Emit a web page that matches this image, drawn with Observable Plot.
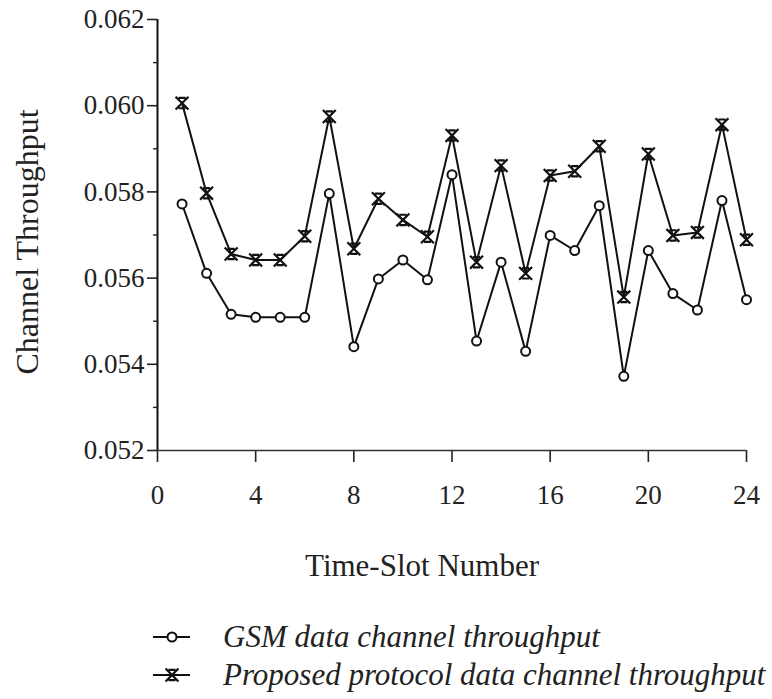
<!DOCTYPE html>
<html>
<head>
<meta charset="utf-8">
<script src="https://cdn.jsdelivr.net/npm/d3@7"></script>
<script src="https://cdn.jsdelivr.net/npm/@observablehq/plot@0.6"></script>
<style>
  body { margin: 0; background: #fff; font-family: "Liberation Serif", "DejaVu Serif", serif; }
  #chart svg { display: block; }
  #legend { position: relative; width: 772px; height: 99px; }
  .row { position: absolute; left: 153px; height: 38px; display: flex; align-items: center;
         font-style: italic; font-size: 31px; color: #222; white-space: nowrap; }
  .row svg { display: block; margin-right: 33px; }
</style>
</head>
<body>
<div id="chart"></div>
<div id="legend"></div>
<script>
// Time-slot numbers
const slots = [1, 2, 3, 4, 5, 6, 7, 8, 9, 10, 11, 12, 13, 14, 15, 16, 17, 18, 19, 20, 21, 22, 23, 24];

// GSM data channel throughput per slot
const gsmThroughput = [0.05772, 0.05611, 0.05516, 0.05509, 0.05509, 0.05509, 0.05796, 0.05441,
                       0.05598, 0.05642, 0.05596, 0.05840, 0.05454, 0.05637, 0.05430, 0.05699,
                       0.05664, 0.05768, 0.05372, 0.05664, 0.05564, 0.05526, 0.05780, 0.05550];

// Proposed protocol data channel throughput per slot
const proposedThroughput = [0.06006, 0.05797, 0.05656, 0.05642, 0.05642, 0.05697, 0.05975, 0.05668,
                            0.05784, 0.05735, 0.05696, 0.05931, 0.05637, 0.05861, 0.05611, 0.05838,
                            0.05848, 0.05906, 0.05556, 0.05888, 0.05699, 0.05706, 0.05956, 0.05689];

// Axis ticks and labels
const xTicks = [0, 4, 8, 12, 16, 20, 24];
const yTicks = [0.052, 0.054, 0.056, 0.058, 0.060, 0.062];
const yMinorTicks = [0.053, 0.055, 0.057, 0.059, 0.061];
const xTitle = "Time-Slot Number";
const yTitle = "Channel Throughput";
const seriesNames = ["GSM data channel throughput", "Proposed protocol data channel throughput"];

const gsm = slots.map((s, i) => ({slot: s, value: gsmThroughput[i]}));
const proposed = slots.map((s, i) => ({slot: s, value: proposedThroughput[i]}));

// Cross marker with short bars on top and bottom
const barCross = {
  draw(context, size) {
    const h = Math.sqrt(size / Math.PI) * 1.5;
    const b = h * 0.55;
    context.moveTo(-h, -h); context.lineTo(h, h);
    context.moveTo(h, -h); context.lineTo(-h, h);
    context.moveTo(-b, -h * 0.8); context.lineTo(b, -h * 0.8);
    context.moveTo(-b, h * 0.8); context.lineTo(b, h * 0.8);
  }
};

const chart = Plot.plot({
  width: 772,
  height: 600,
  marginTop: 19,
  marginBottom: 150,
  marginLeft: 157,
  marginRight: 26,
  style: {fontFamily: "'Liberation Serif', serif", fontSize: "27px", color: "#222", background: "white"},
  x: {domain: [0, 24]},
  y: {domain: [0.052, 0.062]},
  marks: [
    Plot.axisY(yTicks, {tickSize: 10, tickPadding: 3, tickFormat: d3.format(".3f"), label: null, strokeWidth: 1.6, fontSize: 27}),
    Plot.axisY(yMinorTicks, {tickSize: 4, tickFormat: () => "", label: null, strokeWidth: 1.4}),
    Plot.axisX(xTicks, {tickSize: 12, tickPadding: 22, tickFormat: d3.format("d"), label: null, strokeWidth: 1.6, fontSize: 27}),
    Plot.ruleX([0], {y1: 0.052, y2: 0.062, stroke: "#111", strokeWidth: 2}),
    Plot.ruleY([0.052], {x1: 0, x2: 24, stroke: "#333", strokeWidth: 1.5}),
    Plot.line(gsm, {x: "slot", y: "value", stroke: "#111", strokeWidth: 2}),
    Plot.line(proposed, {x: "slot", y: "value", stroke: "#111", strokeWidth: 2}),
    Plot.dot(gsm, {x: "slot", y: "value", r: 4.5, fill: "white", stroke: "#111", strokeWidth: 2}),
    Plot.dot(proposed, {x: "slot", y: "value", r: 4.3, symbol: barCross, fill: "none", stroke: "#111", strokeWidth: 2.2}),
    Plot.text([yTitle], {frameAnchor: "left", dx: -130, dy: 7, rotate: -90, textAnchor: "middle", lineAnchor: "middle", fontSize: 32, fill: "#222"}),
    Plot.text([xTitle], {frameAnchor: "bottom", dx: -30, dy: 116, textAnchor: "middle", lineAnchor: "middle", fontSize: 31, fill: "#222"})
  ]
});
document.getElementById("chart").append(chart);

// Legend rows below the chart
const legend = d3.select("#legend");
seriesNames.forEach((name, i) => {
  const row = legend.append("div").attr("class", "row").style("top", `${18 + i * 38}px`);
  const sw = row.append("svg").attr("width", 37).attr("height", 20);
  sw.append("line").attr("x1", 0).attr("x2", 37).attr("y1", 10).attr("y2", 10)
    .attr("stroke", "#111").attr("stroke-width", 2);
  if (i === 0) {
    sw.append("circle").attr("cx", 19).attr("cy", 10).attr("r", 4.5)
      .attr("fill", "white").attr("stroke", "#111").attr("stroke-width", 2);
  } else {
    const p = d3.path();
    barCross.draw(p, 4.3 * 4.3 * Math.PI);
    sw.append("path").attr("transform", "translate(19,10)").attr("d", p.toString())
      .attr("fill", "none").attr("stroke", "#111").attr("stroke-width", 2.2);
  }
  row.append("span").text(name);
});
</script>
</body>
</html>
